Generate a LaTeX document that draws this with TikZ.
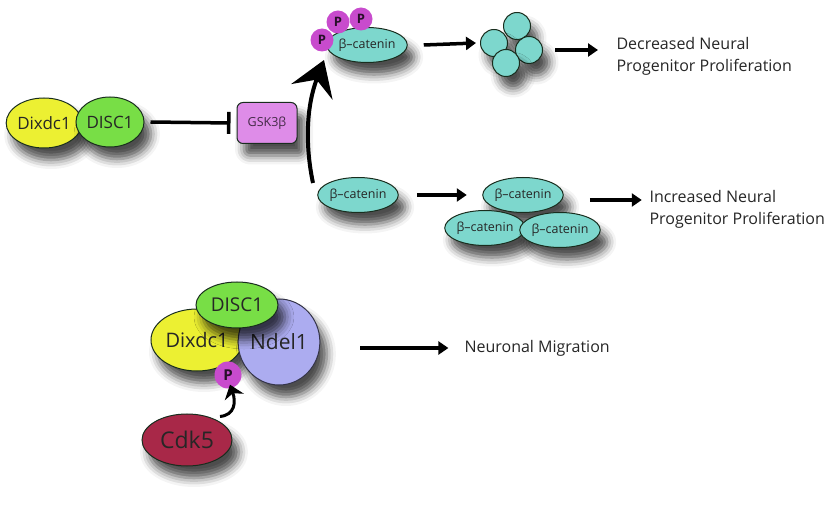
\documentclass[tikz,border=0pt]{standalone}
\usepackage{fontspec}
\setmainfont{Open Sans}
\usetikzlibrary{shapes.geometric,arrows.meta,shadows.blur}
\definecolor{yel}{RGB}{236,240,50}
\definecolor{grn}{RGB}{120,222,70}
\definecolor{gsk}{RGB}{222,140,232}
\definecolor{teal}{RGB}{125,215,205}
\definecolor{mag}{RGB}{200,75,205}
\definecolor{ndel}{RGB}{172,172,240}
\definecolor{cdk}{RGB}{168,40,72}
\definecolor{outl}{RGB}{25,45,30}
\begin{document}
\begin{tikzpicture}[x=1pt,y=-1pt,
  shd/.style={blur shadow={shadow xshift=7pt,shadow yshift=-12pt,shadow blur radius=9pt,shadow opacity=70}},
  prot/.style={ellipse,draw=outl,line width=1pt,inner sep=0pt,shd,text=black!85},
  pcirc/.style={circle,draw=none,fill=mag,inner sep=0pt,minimum size=23pt,font=\bfseries\fontsize{13}{13}\selectfont,text=black!80!mag},
  cat/.style={prot,fill=teal,minimum width=78pt,minimum height=35pt,font=\fontsize{12.5}{13}\selectfont},
  ball/.style={circle,draw=outl,line width=1pt,fill=teal,minimum size=27pt,inner sep=0pt,shd},
  arr/.style={line width=3.5pt,-{Triangle[length=10pt,width=13pt]}},
  lbl/.style={anchor=west,align=left,font=\fontsize{16}{22}\selectfont,text=black!85}]
\useasboundingbox (0,0) rectangle (839,513);

% top pathway
\node[prot,fill=yel,minimum width=68pt,minimum height=50pt,font=\fontsize{17}{17}\selectfont] (dix1) at (44,123) {Dixdc1};
\node[prot,fill=grn,minimum width=68pt,minimum height=50pt,font=\fontsize{17}{17}\selectfont] (disc1) at (110,122) {DISC1};
\node[draw=outl,line width=1pt,rounded corners=6pt,fill=gsk,minimum width=60pt,minimum height=41pt,shd,font=\fontsize{12.5}{13}\selectfont,text=black!70!gsk] (gsk) at (267,123) {GSK3β};
\draw[line width=3.5pt,-{Bar[width=22pt,line width=3.5pt]}] ([xshift=6pt]disc1.east) -- ([xshift=-6pt]gsk.west);

\node[cat] (bcatP) at (367,45) {β–catenin};
\node[pcirc] (p1) at (322,40) {P};
\node[pcirc] (p2) at (338,22) {P};
\node[pcirc] (p3) at (361,19) {P};

\node[ball] (c1) at (517,26) {};
\node[ball] (c2) at (494,43) {};
\node[ball] (c3) at (529,50) {};
\node[ball] (c4) at (506,63) {};
\draw[arr] ([xshift=16pt]bcatP.east) -- ([xshift=-4pt]c2.west);
\draw[arr] ([xshift=12pt]c3.east) -- ([xshift=55pt]c3.east);
\node[lbl] (dec) at (613,56) {Decreased Neural\\Progenitor Proliferation};

\node[cat] (bcat) at (358,195) {β–catenin};
\coordinate (bstart) at (313,183);
\draw[line width=4pt,-{Stealth[length=34pt,width=44pt,inset=13pt]}] (bstart) .. controls (306,150) and (305,110) .. (324,60);

\draw[arr] ([xshift=18pt]bcat.east) -- ([xshift=68pt]bcat.east);
\node[cat] (b1) at (523,195) {β–catenin};
\node[cat] (b2) at (485,228) {β–catenin};
\node[cat] (b3) at (560,230) {β–catenin};
\draw[arr] ([xshift=26pt,yshift=-5pt]b1.east) -- ([xshift=78pt,yshift=-5pt]b1.east);
\node[lbl] (inc) at (646,209) {Increased Neural\\Progenitor Proliferation};

% bottom complex
\node[prot,fill=yel,minimum width=92pt,minimum height=62pt,font=\fontsize{20}{20}\selectfont] (dix2) at (197,340) {Dixdc1};
\node[prot,fill=ndel,draw=black!70!ndel,minimum width=80pt,minimum height=86pt,font=\fontsize{21}{21}\selectfont] (ndel) at (279,342) {Ndel1};
\node[prot,fill=grn,minimum width=82pt,minimum height=46pt,font=\fontsize{19}{19}\selectfont] (disc2) at (237,305) {DISC1};
\node[pcirc,minimum size=27pt,font=\bfseries\fontsize{15}{15}\selectfont] (pb) at (228,375) {P};
\node[prot,fill=cdk,minimum width=90pt,minimum height=52pt,font=\fontsize{23}{23}\selectfont] (cdk5) at (187,440) {Cdk5};
\draw[line width=3pt,-{Stealth[length=13pt,width=20pt,inset=4pt]}] ([xshift=33pt,yshift=-3pt]cdk5.north) .. controls (235,415) and (236,402) .. ([xshift=2pt,yshift=4pt]pb.south);
\draw[arr] ([xshift=40pt,yshift=-6pt]ndel.east) -- ([xshift=128pt,yshift=-6pt]ndel.east);
\node[lbl,font=\fontsize{16}{18}\selectfont] (mig) at (461,348) {Neuronal Migration};
\end{tikzpicture}
\end{document}
